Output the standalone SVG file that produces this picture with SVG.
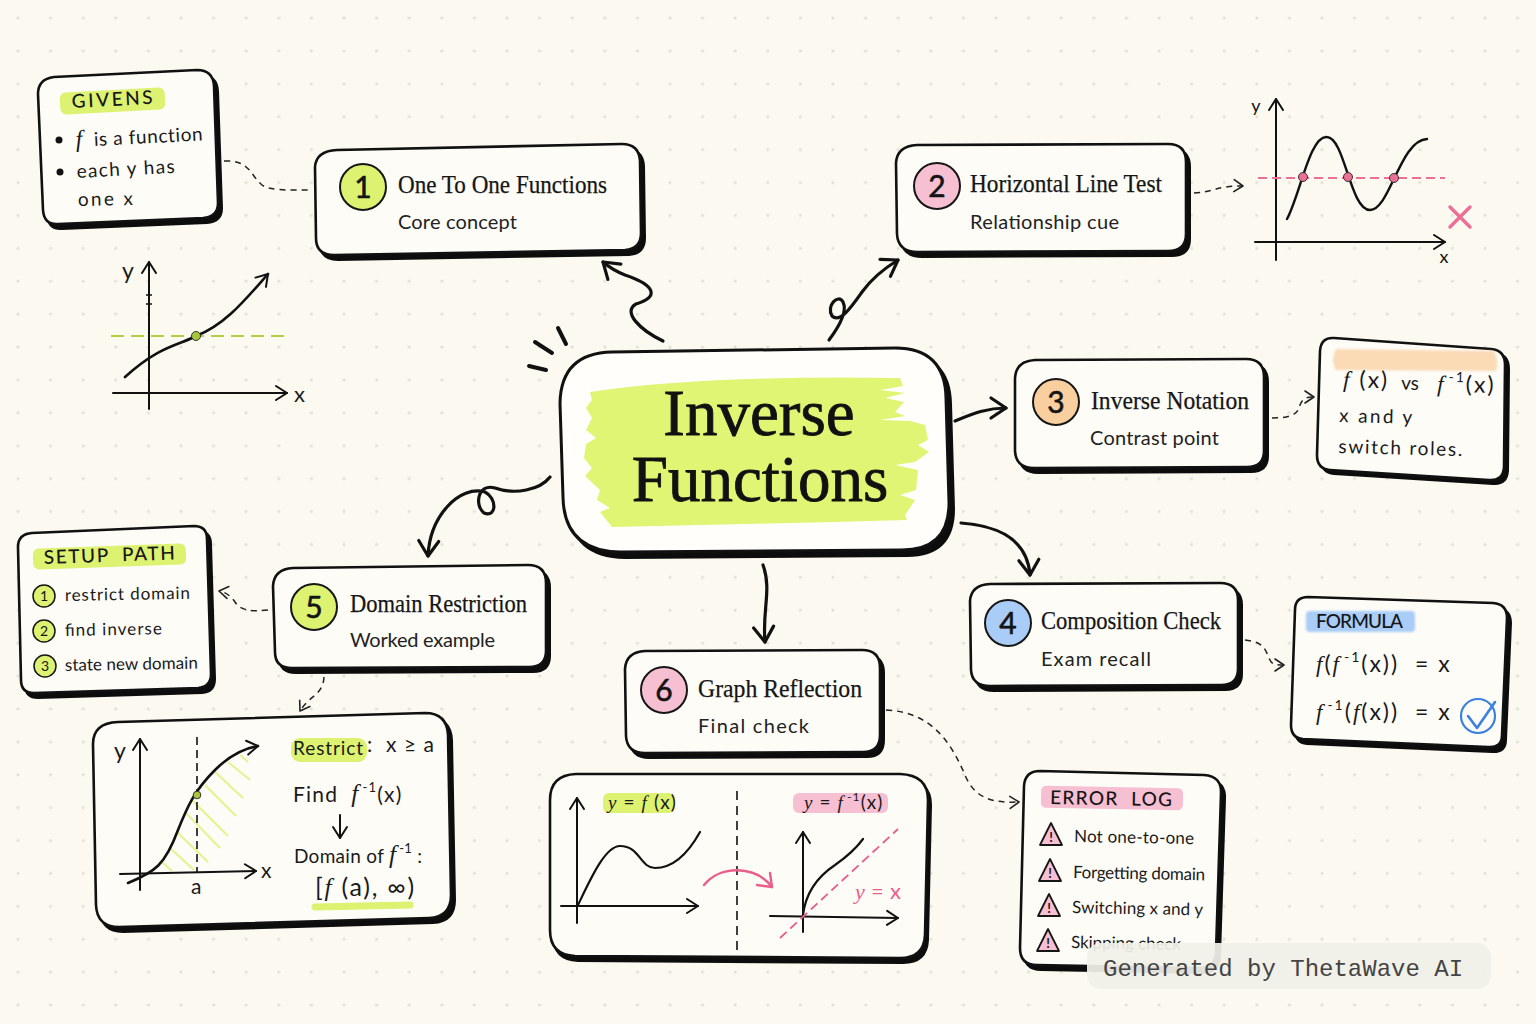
<svg xmlns="http://www.w3.org/2000/svg" width="1536" height="1024" viewBox="0 0 1536 1024">
<style>
.sh{fill:#0d0d0d;stroke:#0d0d0d;stroke-width:2}
.cd{fill:#fdfcf7;stroke:#111;stroke-width:2.6}
.ttl{font-family:"Liberation Serif",serif;font-size:25px;fill:#161616;stroke:#161616;stroke-width:.25}
.sub{font-family:"Lato",sans-serif;font-size:20px;fill:#222}
.hw{font-family:"Lato",sans-serif;font-size:19px;fill:#1a1a1a}
.sm{font-size:17px}
.mth{font-size:23px;letter-spacing:2px}
.cap{font-family:"Lato",sans-serif;font-size:19px;fill:#161616;font-weight:500}
.num{font-family:"Lato",sans-serif;font-size:30px;fill:#141414;text-anchor:middle;stroke:#141414;stroke-width:.6}
.mini{font-family:"Lato",sans-serif;font-size:14px;fill:#141414;text-anchor:middle}
.m{font-family:"Liberation Serif",serif;font-style:italic}
.cir{stroke:#161616;stroke-width:2}
.ln{fill:none;stroke:#111;stroke-width:2;stroke-linecap:round;stroke-linejoin:round}
.con{fill:none;stroke:#111;stroke-width:3.2;stroke-linecap:round;marker-end:url(#ah)}
.das{fill:none;stroke:#222;stroke-width:1.5;stroke-dasharray:6 5}
.arr{marker-end:url(#as)}
.ax{fill:none;stroke:#111;stroke-width:2;stroke-linecap:round;marker-end:url(#ax)}
.lime{fill:#dcf270}.pink{fill:#f7bfd2}.orange{fill:#fbdab6}.blue{fill:#a9cdf7}
</style>
<defs>
<pattern id="dots" x="18" y="18" width="32.6" height="32.9" patternUnits="userSpaceOnUse"><circle cx="0" cy="0" r="1.6" fill="#e3e1d5"/><circle cx="32.6" cy="0" r="1.6" fill="#e3e1d5"/><circle cx="0" cy="32.9" r="1.6" fill="#e3e1d5"/><circle cx="32.6" cy="32.9" r="1.6" fill="#e3e1d5"/></pattern>
<marker id="ah" markerUnits="userSpaceOnUse" viewBox="-24 -16 28 32" refX="0" refY="0" markerWidth="28" markerHeight="32" orient="auto"><path d="M-15 -10 L0 0 L-15 10" fill="none" stroke="#111" stroke-width="3.2" stroke-linecap="round" stroke-linejoin="round"/></marker>
<marker id="as" markerUnits="userSpaceOnUse" viewBox="-14 -10 17 20" refX="0" refY="0" markerWidth="17" markerHeight="20" orient="auto"><path d="M-9 -6 L0 0 L-9 6" fill="none" stroke="#222" stroke-width="1.6" stroke-linecap="round" stroke-linejoin="round"/></marker>
<marker id="ax" markerUnits="userSpaceOnUse" viewBox="-16 -11 19 22" refX="0" refY="0" markerWidth="19" markerHeight="22" orient="auto"><path d="M-11 -7 L0 0 L-11 7" fill="none" stroke="#111" stroke-width="2" stroke-linecap="round" stroke-linejoin="round"/></marker>
<filter id="soft" x="-5%" y="-20%" width="110%" height="140%"><feGaussianBlur stdDeviation="1"/></filter>
<filter id="soft2" x="-5%" y="-10%" width="110%" height="120%"><feGaussianBlur stdDeviation=".7"/></filter>
<path id="p0" d="M612 352 L895 348 Q945 348 946 398 L949 503 Q949 550 902 550 L620 552 Q564 551 563 497 L560 403 Q561 353 612 352Z"/>
<path id="p1" d="M337 150 L622 144 Q639 144 640 161 L641 233 Q641 249 625 250 L334 255 Q316 255 316 238 L315 167 Q316 151 337 150Z"/>
<path id="p2" d="M917 145 L1168 144 Q1186 144 1186 162 L1186 234 Q1186 251 1168 251 L918 252 Q898 252 897 234 L896 163 Q897 146 917 145Z"/>
<path id="p3" d="M1035 360 L1246 359 Q1264 359 1264 377 L1264 451 Q1264 467 1247 467 L1034 468 Q1016 468 1015 451 L1015 378 Q1016 361 1035 360Z"/>
<path id="p4" d="M990 584 L1220 583 Q1238 583 1238 600 L1238 669 Q1238 685 1221 685 L990 686 Q972 686 971 670 L970 601 Q971 585 990 584Z"/>
<path id="p5" d="M293 568 L528 565 Q546 565 546 583 L546 651 Q546 667 529 667 L292 668 Q275 668 275 652 L273 586 Q274 569 293 568Z"/>
<path id="p6" d="M645 651 L862 650 Q880 650 880 668 L880 735 Q880 752 863 752 L645 753 Q627 753 626 736 L625 669 Q626 652 645 651Z"/>
<path id="pg" d="M54 77 L197 70 Q213 70 214 86 L218 203 Q218 217 203 218 L58 224 Q44 225 43 210 L38 94 Q38 79 54 77Z"/>
<path id="pn" d="M1334 338 L1491 349 Q1505 350 1505 365 L1504 467 Q1503 481 1489 480 L1330 470 Q1317 469 1317 455 L1320 351 Q1321 337 1334 338Z"/>
<path id="pf" d="M1308 597 L1493 603 Q1507 604 1507 618 L1502 735 Q1502 748 1488 747 L1303 739 Q1291 738 1291 725 L1295 610 Q1295 597 1308 597Z"/>
<path id="pe" d="M1040 771 L1204 775 Q1222 776 1221 794 L1216 952 Q1215 968 1199 968 L1037 965 Q1020 965 1020 948 L1024 786 Q1025 771 1040 771Z"/>
<path id="ps" d="M32 533 L194 526 Q207 526 207 539 L211 674 Q211 687 198 688 L34 693 Q21 693 21 680 L18 547 Q18 534 32 533Z"/>
<path id="pr" d="M118 722 L425 713 Q447 713 448 735 L451 895 Q451 917 429 918 L119 927 Q97 927 96 905 L93 744 Q93 723 118 722Z"/>
<path id="pb" d="M576 774 L900 774 Q928 775 928 800 L925 935 Q924 958 900 958 L575 956 Q550 955 550 930 L550 800 Q550 775 576 774Z"/>
</defs>
<rect width="1536" height="1024" fill="#fbf9f0"/>
<rect width="1536" height="1024" fill="url(#dots)"/>

<g id="connectors">
<path class="con" d="M663 341 C640 330 622 312 636 304 C660 297 655 285 625 275 C615 271 610 268 603 262"/>
<path class="con" d="M829 340 C838 328 848 312 843 302 C838 293 826 306 832 316 C840 324 852 306 862 292 C872 278 885 268 898 260"/>
<path class="con" d="M955 421 C970 415 985 408 1006 408"/>
<path class="con" d="M961 523 C990 525 1027 535 1030 575"/>
<path class="con" d="M763 565 C772 590 762 610 765 642"/>
<path class="con" d="M550 477 C540 490 515 495 495 488 C478 483 474 505 484 513 C497 518 497 498 485 492 C460 485 430 515 428 556"/>
<path class="das" d="M224 161 C250 160 250 175 262 185 C270 191 290 190 310 190"/>
<path class="das arr" d="M1194 193 C1210 193 1220 185 1243 186"/>
<path class="das arr" d="M1272 418 C1290 418 1298 415 1300 405 C1303 397 1308 397 1314 397"/>
<path class="das arr" d="M1245 640 C1265 642 1265 650 1270 660 C1272 665 1278 665 1284 665"/>
<path class="das arr" d="M268 610 C250 612 240 610 235 602 C230 595 225 592 219 591"/>
<path class="das arr" d="M324 677 C323 695 310 695 300 711"/>
<path class="das arr" d="M886 710 C930 712 950 740 965 775 C975 800 995 803 1019 802"/>
</g>

<g id="node-center">
<use href="#p0" class="sh" transform="translate(5,6)"/><use href="#p0" class="cd" style="fill:#fffefb;stroke-width:3"/>
<path d="M590 392 Q700 375 900 378 L903 386 L880 390 L905 393 L885 398 L904 402 L895 412 L905 416 L880 420 L910 421 L925 425 L928 440 L918 445 L929 452 L915 462 L895 465 L918 470 L916 490 L900 495 L915 500 L905 515 L907 520 Q760 524 612 527 L600 512 L610 508 L597 500 L600 490 L585 476 L592 468 L584 458 L586 444 L596 438 L586 430 L592 418 L586 408 L592 400Z" fill="#dff573" filter="url(#soft2)"/>
<text x="759" y="435" text-anchor="middle" font-family="'Liberation Serif',serif" font-size="65" fill="#111" stroke="#111" stroke-width=".8">Inverse</text>
<text x="760" y="501" text-anchor="middle" font-family="'Liberation Serif',serif" font-size="65" fill="#111" stroke="#111" stroke-width=".8">Functions</text>
<path class="ln" style="stroke-width:4" d="M529 366 L546 370 M535 342 L552 353 M558 328 L566 344"/>
</g>

<g id="node-1"><use href="#p1" class="sh" transform="translate(4,5)"/><use href="#p1" class="cd"/>
<circle class="cir lime" cx="363" cy="187" r="23"/><text class="num" x="363" y="198">1</text>
<text class="ttl" x="398" y="193" textLength="209" lengthAdjust="spacingAndGlyphs">One To One Functions</text>
<text class="sub" x="398" y="229" textLength="119">Core concept</text></g>
<g id="node-2"><use href="#p2" class="sh" transform="translate(4,5)"/><use href="#p2" class="cd"/>
<circle class="cir pink" cx="937" cy="186" r="23"/><text class="num" x="937" y="197">2</text>
<text class="ttl" x="970" y="192" textLength="192" lengthAdjust="spacingAndGlyphs">Horizontal Line Test</text>
<text class="sub" x="970" y="229" textLength="149">Relationship cue</text></g>
<g id="node-3"><use href="#p3" class="sh" transform="translate(4,5)"/><use href="#p3" class="cd"/>
<circle class="cir orange" style="fill:#f9cf9f" cx="1056" cy="402" r="23"/><text class="num" x="1056" y="413">3</text>
<text class="ttl" x="1091" y="409" textLength="158" lengthAdjust="spacingAndGlyphs">Inverse Notation</text>
<text class="sub" x="1090" y="445" textLength="129">Contrast point</text></g>
<g id="node-4"><use href="#p4" class="sh" transform="translate(4,5)"/><use href="#p4" class="cd"/>
<circle class="cir blue" cx="1008" cy="623" r="23"/><text class="num" x="1008" y="634">4</text>
<text class="ttl" x="1041" y="629" textLength="180" lengthAdjust="spacingAndGlyphs">Composition Check</text>
<text class="sub" x="1041" y="666" textLength="110">Exam recall</text></g>
<g id="node-5"><use href="#p5" class="sh" transform="translate(4,5)"/><use href="#p5" class="cd"/>
<circle class="cir lime" cx="314" cy="607" r="23"/><text class="num" x="314" y="618">5</text>
<text class="ttl" x="350" y="612" textLength="177" lengthAdjust="spacingAndGlyphs">Domain Restriction</text>
<text class="sub" x="350" y="647" textLength="145">Worked example</text></g>
<g id="node-6"><use href="#p6" class="sh" transform="translate(4,5)"/><use href="#p6" class="cd"/>
<circle class="cir pink" cx="664" cy="690" r="23"/><text class="num" x="664" y="701">6</text>
<text class="ttl" x="698" y="697" textLength="164" lengthAdjust="spacingAndGlyphs">Graph Reflection</text>
<text class="sub" x="698" y="733" textLength="111">Final check</text></g>

<g id="note-givens"><use href="#pg" class="sh" transform="translate(4,5)"/><use href="#pg" class="cd"/>
<rect class="lime" x="60" y="90" width="105" height="22" rx="6" transform="rotate(-3 112 101)"/>
<text class="cap" x="72" y="108" textLength="81" transform="rotate(-3 72 108)">GIVENS</text>
<circle cx="59" cy="140" r="3.5" fill="#111"/><circle cx="60" cy="172" r="3.5" fill="#111"/>
<text class="hw" x="76" y="147" transform="rotate(-3 76 147)" style="letter-spacing:.6px" xml:space="preserve"><tspan class="m" font-size="24">f</tspan>  is a function</text>
<text class="hw" x="77" y="178" textLength="98" transform="rotate(-3 77 178)">each y has</text>
<text class="hw" x="78" y="206" textLength="55" transform="rotate(-1 78 206)">one x</text></g>

<g id="chart-left">
<path class="ax" d="M149 409 L149 262"/><path class="ax" d="M113 393 L287 393"/>
<path d="M146 295 L152 295 M146 304 L152 304" fill="none" stroke="#111" stroke-width="1.4"/>
<path d="M111 336 L289 336" fill="none" stroke="#b3cf3f" stroke-width="2" stroke-dasharray="13 7"/>
<path class="ln" style="stroke-width:2.6;marker-end:url(#ax)" d="M125 377 C160 345 180 345 196 336 C225 325 245 300 268 274"/>
<circle cx="196" cy="336" r="4.5" fill="#a7c63a" stroke="#333" stroke-width="1"/>
<text class="hw" style="font-size:23px" x="122" y="279">y</text><text class="hw" style="font-size:22px" x="294" y="402">x</text></g>

<g id="chart-right">
<path class="ax" d="M1276 260 L1276 99"/><path class="ax" d="M1255 242 L1445 242"/>
<path class="ln" style="stroke-width:2.4" d="M1287 219 C1300 195 1310 135 1327 137 C1345 138 1350 210 1370 210 C1390 210 1400 140 1427 139"/>
<path d="M1258 178 L1445 178" fill="none" stroke="#ec6f95" stroke-width="1.8" stroke-dasharray="9 5"/>
<circle cx="1303" cy="177" r="4.5" fill="#ec6f95" stroke="#333"/><circle cx="1348" cy="177" r="4.5" fill="#ec6f95" stroke="#333"/><circle cx="1394" cy="178" r="4.5" fill="#ec6f95" stroke="#333"/>
<path d="M1450 207 L1470 227 M1470 207 L1450 227" fill="none" stroke="#ec6f95" stroke-width="3.4" stroke-linecap="round"/>
<text class="mini" style="font-size:18px" x="1256" y="112">y</text><text class="mini" style="font-size:18px" x="1444" y="263">x</text></g>

<g id="note-notation"><use href="#pn" class="sh" transform="translate(4,4)"/><use href="#pn" class="cd"/>
<path class="orange" d="M1336 349 L1494 351 Q1499 360 1496 371 L1336 370 Q1330 360 1336 349Z" filter="url(#soft)"/>
<g transform="rotate(1.5 1343 387)">
<text class="hw mth" x="1343" y="387"><tspan class="m">f</tspan> (x)</text>
<text class="hw" x="1401" y="388">vs</text>
<text class="hw mth" x="1437" y="389"><tspan class="m">f</tspan><tspan font-size="14" dy="-10" dx="3">-1</tspan><tspan dy="10">(x)</tspan></text>
<text class="hw" x="1340" y="422" textLength="73">x and y</text>
<text class="hw" x="1340" y="453" textLength="124">switch roles.</text></g></g>

<g id="note-formula"><use href="#pf" class="sh" transform="translate(4,5)"/><use href="#pf" class="cd"/>
<rect class="blue" x="1306" y="611" width="109" height="21" rx="4" filter="url(#soft)"/>
<text class="cap" x="1316" y="628" textLength="87">FORMULA</text>
<text class="hw mth" x="1316" y="672" xml:space="preserve"><tspan class="m">f</tspan>(<tspan class="m">f</tspan><tspan font-size="14" dy="-10" dx="3">-1</tspan><tspan dy="10">(x))  = x</tspan></text>
<text class="hw mth" x="1316" y="720" xml:space="preserve"><tspan class="m">f</tspan><tspan font-size="14" dy="-10" dx="3">-1</tspan><tspan dy="10">(</tspan><tspan class="m">f</tspan>(x))  = x</text>
<circle cx="1478" cy="716" r="17" fill="none" stroke="#3b82e0" stroke-width="2.2"/>
<path d="M1468 716 L1477 728 L1495 702" fill="none" stroke="#3b82e0" stroke-width="2.6" stroke-linecap="round" stroke-linejoin="round"/></g>

<g id="note-setup"><use href="#ps" class="sh" transform="translate(4,5)"/><use href="#ps" class="cd"/>
<rect class="lime" x="33" y="546" width="153" height="21" rx="6" transform="rotate(-2 110 556)"/>
<text class="cap" x="44" y="564" textLength="131" transform="rotate(-2 44 564)" xml:space="preserve">SETUP  PATH</text>
<circle class="cir lime" style="stroke-width:1.5" cx="44" cy="596" r="11"/><text class="mini" x="44" y="601">1</text>
<circle class="cir lime" style="stroke-width:1.5" cx="44" cy="631" r="11"/><text class="mini" x="44" y="636">2</text>
<circle class="cir lime" style="stroke-width:1.5" cx="45" cy="666" r="11"/><text class="mini" x="45" y="671">3</text>
<text class="hw sm" x="65" y="601" textLength="125" transform="rotate(-1 65 601)">restrict domain</text>
<text class="hw sm" x="65" y="636" textLength="97" transform="rotate(-1 65 636)">find inverse</text>
<text class="hw sm" x="65" y="671" textLength="133" transform="rotate(-1 65 671)">state new domain</text></g>

<g id="note-restrict"><use href="#pr" class="sh" transform="translate(4,5)"/><use href="#pr" class="cd"/>
<path d="M162 862 L172 871 M170 848 L194 870 M177 832 L208 862 M185 812 L220 848 M192 800 L228 836 M205 785 L236 816 M215 772 L243 798 M228 762 L250 780 M240 755 L248 762" fill="none" stroke="#e3f48e" stroke-width="2"/>
<path class="ax" d="M140 890 L140 739"/><path class="ax" d="M120 874 L256 871"/>
<path class="ln" style="stroke-width:2.6;marker-end:url(#ax)" d="M128 883 C155 872 165 865 178 830 C188 805 195 790 215 770 C230 755 245 748 258 746"/>
<path d="M197 737 L197 873" fill="none" stroke="#111" stroke-width="1.6" stroke-dasharray="8 5"/>
<circle cx="197" cy="795" r="3.8" fill="#a7c63a" stroke="#333"/>
<text class="hw" style="font-size:23px" x="114" y="759">y</text><text class="hw" style="font-size:21px" x="261" y="878">x</text><text class="hw" style="font-size:21px" x="191" y="894">a</text>
<rect class="lime" x="291" y="738" width="76" height="24" rx="9"/>
<text class="hw" x="293" y="755" textLength="70">Restrict</text>
<text class="hw" style="font-size:21px" x="367" y="752" textLength="67" xml:space="preserve">:  x ≥ a</text>
<text class="hw" style="font-size:21px;letter-spacing:1.2px" x="293" y="802" xml:space="preserve">Find  <tspan class="m" font-size="25">f</tspan><tspan font-size="13" dy="-10" dx="3">-1</tspan><tspan dy="10">(x)</tspan></text>
<path class="ln" style="marker-end:url(#ax)" d="M340 815 L340 838"/>
<text class="hw" x="294" y="863" style="letter-spacing:.3px">Domain of <tspan class="m" font-size="25">f</tspan><tspan font-size="13" dy="-10" dx="3">-1</tspan><tspan dy="10"> :</tspan></text>
<text class="hw mth" style="font-size:25px;letter-spacing:1.8px" x="315" y="896">[<tspan class="m">f</tspan> (a), ∞)</text>
<path d="M315 907 L410 905" fill="none" stroke="#dcf270" stroke-width="7" stroke-linecap="round"/></g>

<g id="note-graphs"><use href="#pb" class="sh" transform="translate(3,5)"/><use href="#pb" class="cd"/>
<rect class="lime" x="603" y="793" width="72" height="20" rx="6"/><rect class="pink" x="793" y="793" width="95" height="20" rx="6"/>
<text class="hw" style="font-size:19px;letter-spacing:1.1px" x="608" y="809"><tspan class="m">y</tspan> = <tspan class="m">f</tspan> (x)</text>
<text class="hw" style="font-size:19px;letter-spacing:1.1px" x="804" y="809"><tspan class="m">y</tspan> = <tspan class="m">f</tspan><tspan font-size="12" dy="-8" dx="3">-1</tspan><tspan dy="8">(x)</tspan></text>
<path class="ax" d="M577 923 L577 798"/><path class="ax" d="M561 906 L698 906"/>
<path class="ln" style="stroke-width:2.2" d="M578 905 C590 880 605 846 620 846 C640 846 640 868 655 868 C675 868 690 850 700 832"/>
<path d="M737 791 L737 955" fill="none" stroke="#111" stroke-width="1.6" stroke-dasharray="9 6"/>
<path d="M704 885 C720 865 755 865 772 887" fill="none" stroke="#e85f8c" stroke-width="2.4" stroke-linecap="round"/><path d="M757 885 L772 887 L770 873" fill="none" stroke="#e85f8c" stroke-width="2.4" stroke-linecap="round" stroke-linejoin="round"/>
<path class="ax" d="M803 932 L803 832"/><path class="ax" d="M770 916 L898 918"/>
<path class="ln" style="stroke-width:2.2" d="M803 915 C806 890 820 875 835 865 C845 858 855 850 863 839"/>
<path d="M780 938 L898 829" fill="none" stroke="#e85f8c" stroke-width="1.8" stroke-dasharray="9 5"/>
<text class="hw" style="font-size:22px;fill:#e85f8c" x="855" y="899" textLength="46"><tspan class="m">y</tspan> = x</text></g>

<g id="note-errors"><use href="#pe" class="sh" transform="translate(4,5)"/><use href="#pe" class="cd"/>
<rect class="pink" x="1041" y="787" width="142" height="22" rx="5" transform="rotate(1 1112 798)"/>
<text class="cap" x="1050" y="804" textLength="122" transform="rotate(1 1050 804)" xml:space="preserve">ERROR  LOG</text>
<g fill="#f7bfd2" stroke="#161616" stroke-width="1.8" stroke-linejoin="round">
<path d="M1040 845 L1062 845 L1051 823Z"/><path d="M1039 881 L1061 881 L1050 859Z"/><path d="M1038 916 L1060 916 L1049 894Z"/><path d="M1037 951 L1059 951 L1048 929Z"/></g>
<g font-family="Lato,sans-serif" font-size="13" font-weight="700" fill="#161616" text-anchor="middle"><text x="1051" y="842">!</text><text x="1050" y="878">!</text><text x="1049" y="913">!</text><text x="1048" y="948">!</text></g>
<text class="hw sm" x="1074" y="842" textLength="120" transform="rotate(1 1074 842)">Not one-to-one</text>
<text class="hw sm" x="1073" y="878" textLength="132" transform="rotate(1 1073 878)">Forgetting domain</text>
<text class="hw sm" x="1072" y="913" textLength="131" transform="rotate(1 1072 913)">Switching x and y</text>
<text class="hw sm" x="1071" y="948" textLength="110" transform="rotate(1 1071 948)">Skipping check</text></g>

<g id="watermark"><rect x="1087" y="943" width="404" height="46" rx="14" fill="#f1f0e8" fill-opacity=".93"/>
<text x="1103" y="976" font-family="'Liberation Mono',monospace" font-size="24" fill="#444">Generated by ThetaWave AI</text></g>
</svg>
